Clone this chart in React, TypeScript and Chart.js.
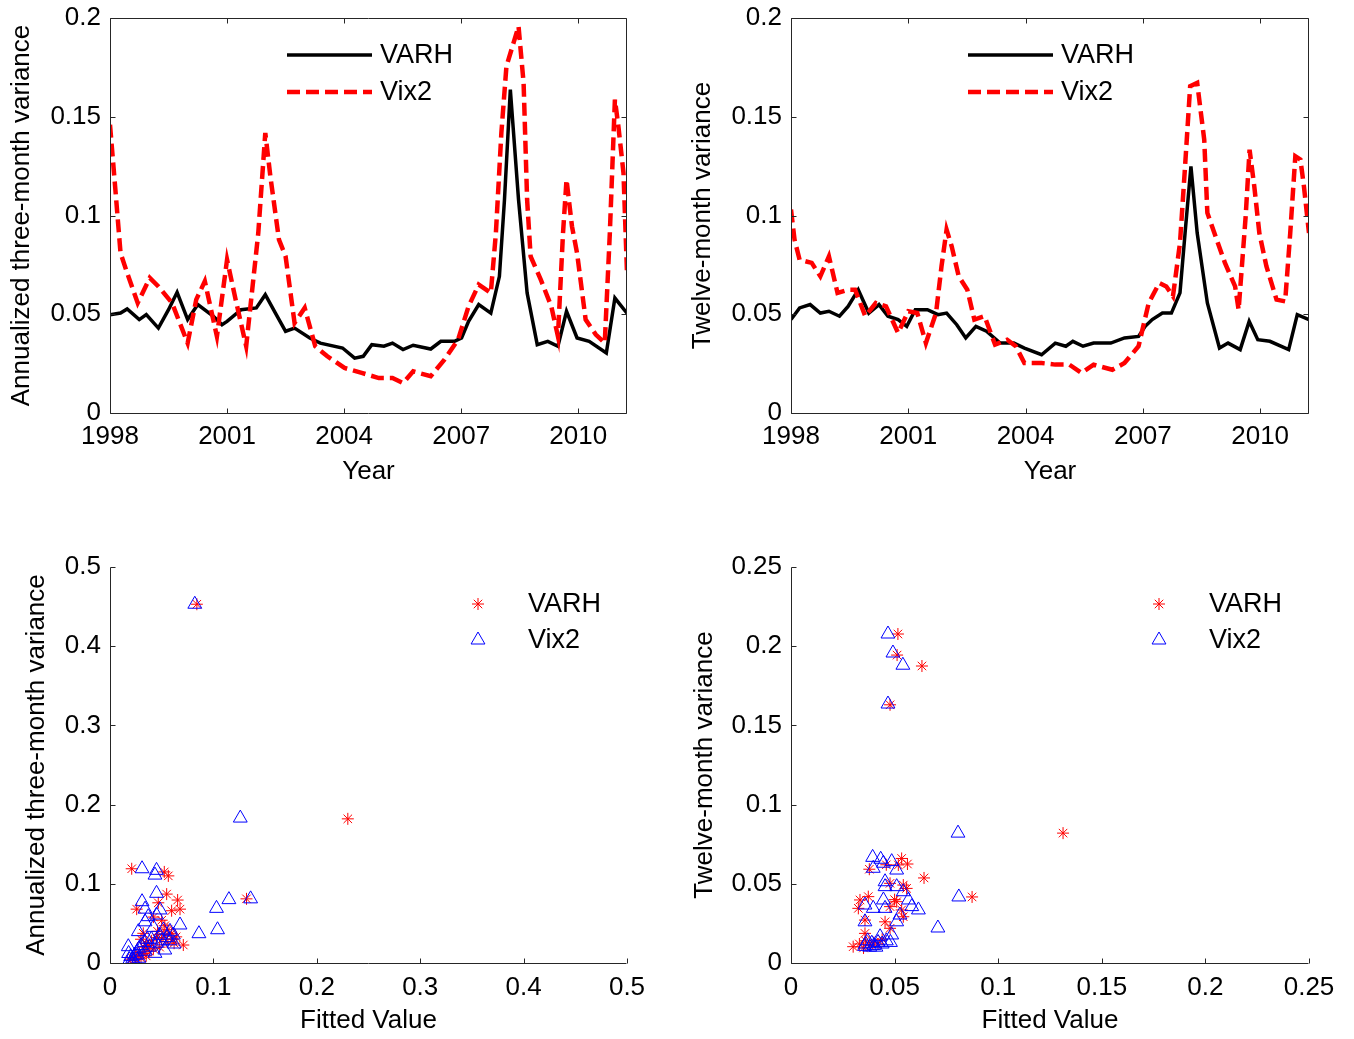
import React, { useEffect, useRef } from "react";
import { Chart, registerables } from "chart.js";

Chart.register(...registerables);

const FONT = "'Liberation Sans', Arial, Helvetica, sans-serif";
Chart.defaults.font.family = FONT;

// ---------- Top-left: annualized three-month variance ----------
const varh3Years = [1998.0, 1998.27, 1998.44, 1998.75, 1998.93, 1999.24, 1999.5, 1999.72, 1999.99, 2000.25, 2000.65, 2000.87, 2001.0, 2001.36, 2001.75, 2001.98, 2002.24, 2002.5, 2002.73, 2003.12, 2003.39, 2003.96, 2004.27, 2004.49, 2004.71, 2005.02, 2005.24, 2005.51, 2005.77, 2006.22, 2006.48, 2006.83, 2007.01, 2007.19, 2007.45, 2007.76, 2007.98, 2008.11, 2008.26, 2008.47, 2008.69, 2008.95, 2009.22, 2009.48, 2009.7, 2009.97, 2010.28, 2010.72, 2010.94, 2011.25];
const varh3Values = [0.0498, 0.0506, 0.0527, 0.0473, 0.0498, 0.043, 0.0523, 0.0611, 0.0473, 0.0549, 0.049, 0.0447, 0.0464, 0.0523, 0.0532, 0.0599, 0.0506, 0.0414, 0.043, 0.038, 0.0354, 0.0329, 0.0278, 0.0287, 0.0346, 0.0338, 0.0354, 0.0321, 0.0343, 0.0324, 0.0363, 0.0363, 0.038, 0.0464, 0.0549, 0.0506, 0.0692, 0.108, 0.1637, 0.108, 0.0608, 0.0346, 0.0363, 0.0338, 0.0515, 0.038, 0.0363, 0.0304, 0.0582, 0.0505];

const vix3Years = [1998.0, 1998.13, 1998.27, 1998.44, 1998.71, 1999.02, 1999.24, 1999.59, 1999.99, 2000.21, 2000.43, 2000.74, 2001.0, 2001.22, 2001.49, 2001.8, 2001.98, 2002.11, 2002.33, 2002.5, 2002.73, 2002.99, 2003.26, 2003.57, 2004.01, 2004.45, 2004.89, 2005.24, 2005.51, 2005.77, 2006.22, 2006.57, 2006.92, 2007.19, 2007.45, 2007.76, 2007.89, 2008.03, 2008.16, 2008.34, 2008.47, 2008.6, 2008.69, 2008.78, 2009.04, 2009.31, 2009.48, 2009.61, 2009.7, 2009.84, 2009.97, 2010.19, 2010.45, 2010.68, 2010.81, 2010.94, 2011.03, 2011.16, 2011.25];
const vix3Values = [0.146, 0.115, 0.081, 0.0709, 0.0557, 0.0684, 0.0641, 0.0557, 0.0354, 0.0574, 0.0667, 0.0388, 0.0776, 0.0574, 0.0338, 0.0911, 0.1418, 0.1198, 0.0878, 0.0793, 0.0456, 0.0532, 0.0338, 0.0287, 0.0228, 0.0203, 0.0177, 0.0177, 0.0152, 0.0211, 0.0186, 0.027, 0.0371, 0.054, 0.065, 0.0608, 0.0911, 0.1418, 0.1755, 0.1873, 0.1958, 0.1671, 0.108, 0.0793, 0.0675, 0.054, 0.0388, 0.0911, 0.1181, 0.0945, 0.081, 0.0473, 0.0397, 0.0354, 0.0911, 0.1587, 0.1451, 0.1215, 0.0709];

// ---------- Top-right: twelve-month variance ----------
const varh12Years = [1998.0, 1998.22, 1998.49, 1998.75, 1998.97, 1999.24, 1999.46, 1999.72, 1999.99, 2000.25, 2000.48, 2000.74, 2000.96, 2001.18, 2001.49, 2001.76, 2001.98, 2002.24, 2002.47, 2002.73, 2003.0, 2003.35, 2003.7, 2003.97, 2004.41, 2004.76, 2005.03, 2005.21, 2005.47, 2005.74, 2006.18, 2006.53, 2006.89, 2007.06, 2007.24, 2007.5, 2007.73, 2007.95, 2008.08, 2008.23, 2008.39, 2008.65, 2008.96, 2009.18, 2009.49, 2009.72, 2009.94, 2010.25, 2010.73, 2010.95, 2011.25];
const varh12Values = [0.0473, 0.0532, 0.0549, 0.0506, 0.0515, 0.049, 0.054, 0.0624, 0.0506, 0.0549, 0.049, 0.0473, 0.0439, 0.0523, 0.0523, 0.0498, 0.0506, 0.0447, 0.038, 0.0439, 0.0414, 0.0354, 0.0354, 0.0329, 0.0295, 0.0354, 0.0338, 0.0363, 0.0338, 0.0354, 0.0354, 0.038, 0.0388, 0.0439, 0.0473, 0.0506, 0.0506, 0.0608, 0.0911, 0.1249, 0.0911, 0.0557, 0.0329, 0.0354, 0.0321, 0.0464, 0.0371, 0.0363, 0.0321, 0.0498, 0.0473];

const vix12Years = [1998.0, 1998.09, 1998.22, 1998.53, 1998.75, 1998.97, 1999.19, 1999.46, 1999.64, 1999.9, 2000.17, 2000.43, 2000.74, 2001.0, 2001.23, 2001.45, 2001.71, 2001.85, 2001.98, 2002.11, 2002.29, 2002.51, 2002.69, 2002.95, 2003.22, 2003.53, 2003.75, 2003.97, 2004.41, 2004.76, 2005.12, 2005.43, 2005.74, 2006.22, 2006.53, 2006.89, 2007.15, 2007.42, 2007.6, 2007.77, 2007.95, 2008.08, 2008.21, 2008.39, 2008.57, 2008.65, 2008.83, 2009.1, 2009.36, 2009.45, 2009.63, 2009.73, 2009.85, 2009.98, 2010.16, 2010.42, 2010.64, 2010.77, 2010.9, 2011.03, 2011.12, 2011.25];
const vix12Values = [0.103, 0.0878, 0.0776, 0.076, 0.0692, 0.0793, 0.0608, 0.0624, 0.0624, 0.049, 0.0557, 0.054, 0.0405, 0.0515, 0.0506, 0.0354, 0.0506, 0.0743, 0.0928, 0.0844, 0.0692, 0.0624, 0.0473, 0.049, 0.0346, 0.0371, 0.0338, 0.0253, 0.0253, 0.0245, 0.0245, 0.0203, 0.0245, 0.0219, 0.0253, 0.0338, 0.0557, 0.0658, 0.0641, 0.0591, 0.0861, 0.1249, 0.1654, 0.1671, 0.1384, 0.1013, 0.0911, 0.076, 0.0641, 0.0523, 0.0996, 0.1333, 0.1148, 0.0911, 0.0743, 0.0574, 0.0565, 0.0911, 0.13, 0.1283, 0.1148, 0.0911];

const yearTicks = [1998, 2001, 2004, 2007, 2010];
const varTicksTop = [0, 0.05, 0.1, 0.15, 0.2];

// ---------- Bottom-left: three-month variance vs fitted value ----------
const sc3VarhFitted = [0.084, 0.23, 0.132, 0.021, 0.0525, 0.0564, 0.0548, 0.0654, 0.0467, 0.0258, 0.0596, 0.0677, 0.042, 0.05, 0.053, 0.0322, 0.0596, 0.0709, 0.03, 0.035, 0.04, 0.045, 0.05, 0.055, 0.06, 0.048, 0.042, 0.038, 0.032, 0.028, 0.025, 0.022, 0.02, 0.024, 0.027, 0.033, 0.037, 0.052, 0.046, 0.056, 0.062, 0.064, 0.03, 0.035];
const sc3VarhActual = [0.453, 0.182, 0.081, 0.119, 0.115, 0.11, 0.087, 0.0795, 0.076, 0.068, 0.066, 0.068, 0.058, 0.054, 0.047, 0.0375, 0.0375, 0.0227, 0.03, 0.025, 0.028, 0.032, 0.03, 0.027, 0.03, 0.02, 0.018, 0.015, 0.012, 0.01, 0.008, 0.006, 0.004, 0.005, 0.013, 0.02, 0.022, 0.036, 0.04, 0.042, 0.025, 0.033, 0.006, 0.009];
const sc3VixFitted = [0.082, 0.126, 0.136, 0.115, 0.103, 0.104, 0.086, 0.031, 0.045, 0.0435, 0.045, 0.031, 0.0339, 0.0484, 0.037, 0.045, 0.0677, 0.0339, 0.0274, 0.0516, 0.0613, 0.053, 0.0435, 0.0177, 0.018, 0.02, 0.022, 0.019, 0.024, 0.026, 0.028, 0.03, 0.033, 0.036, 0.04, 0.045, 0.05, 0.055, 0.058, 0.062, 0.038, 0.034, 0.028, 0.023, 0.026, 0.048, 0.042, 0.058];
const sc3VixActual = [0.453, 0.183, 0.081, 0.08, 0.069, 0.042, 0.037, 0.119, 0.117, 0.111, 0.088, 0.0774, 0.068, 0.067, 0.0585, 0.0606, 0.048, 0.052, 0.0396, 0.0417, 0.0354, 0.0164, 0.0122, 0.0206, 0.012, 0.008, 0.005, 0.004, 0.01, 0.014, 0.018, 0.022, 0.026, 0.03, 0.03, 0.025, 0.028, 0.032, 0.028, 0.024, 0.02, 0.015, 0.006, 0.003, 0.01, 0.035, 0.045, 0.04];
const ticks3 = [0, 0.1, 0.2, 0.3, 0.4, 0.5];

// ---------- Bottom-right: twelve-month variance vs fitted value ----------
const sc12VarhFitted = [0.0516, 0.0512, 0.0632, 0.0478, 0.1313, 0.0874, 0.0642, 0.0534, 0.0562, 0.0518, 0.0378, 0.0478, 0.0542, 0.0558, 0.0373, 0.0333, 0.0325, 0.0478, 0.051, 0.0534, 0.0542, 0.0357, 0.0454, 0.0478, 0.0357, 0.03, 0.033, 0.036, 0.038, 0.04, 0.042, 0.035, 0.044, 0.046, 0.05];
const sc12VarhActual = [0.2077, 0.1944, 0.1875, 0.163, 0.082, 0.0417, 0.0537, 0.066, 0.0625, 0.0619, 0.0592, 0.0503, 0.0492, 0.0471, 0.0419, 0.0398, 0.0345, 0.0356, 0.0387, 0.0335, 0.0292, 0.0271, 0.026, 0.0219, 0.0187, 0.0103, 0.012, 0.014, 0.011, 0.013, 0.012, 0.0095, 0.015, 0.062, 0.04];
const sc12VixFitted = [0.0468, 0.0492, 0.054, 0.0468, 0.0806, 0.081, 0.0709, 0.0394, 0.0433, 0.0446, 0.0486, 0.0397, 0.051, 0.0454, 0.0454, 0.051, 0.0542, 0.0357, 0.0397, 0.0446, 0.0454, 0.0567, 0.0583, 0.0615, 0.0526, 0.0357, 0.051, 0.0486, 0.043, 0.036, 0.038, 0.04, 0.042, 0.044, 0.046, 0.037, 0.039, 0.041, 0.0355, 0.048];
const sc12VixActual = [0.2077, 0.1957, 0.188, 0.1635, 0.082, 0.0417, 0.0221, 0.0667, 0.0655, 0.063, 0.064, 0.0598, 0.0587, 0.0513, 0.0482, 0.0482, 0.045, 0.0366, 0.0345, 0.0398, 0.0345, 0.0398, 0.0356, 0.0335, 0.0303, 0.026, 0.026, 0.0177, 0.0166, 0.012, 0.01, 0.011, 0.013, 0.012, 0.014, 0.014, 0.0125, 0.01, 0.0105, 0.013];
const ticks12 = [0, 0.05, 0.1, 0.15, 0.2, 0.25];

const toXY = (xs: number[], ys: number[]) => xs.map((x, i) => ({ x, y: ys[i] }));

const AXIS_COLOR = "#262626";

// Draws MATLAB-style axes (inward ticks, optional box) and an in-axes legend
const matlabPlugin = {
  id: "matlab",
  afterDraw(chart: any, _args: any, opts: any) {
    const { ctx, chartArea: a, scales } = chart;
    const xs = scales.x;
    const ys = scales.y;
    const L = opts.tickLen ?? 5;
    ctx.save();
    ctx.strokeStyle = AXIS_COLOR;
    ctx.lineWidth = 1;
    ctx.setLineDash([]);
    ctx.beginPath();
    const l = Math.round(a.left) + 0.5;
    const b = Math.round(a.bottom) + 0.5;
    const r = Math.round(a.right) - 0.5;
    const t = Math.round(a.top) + 0.5;
    ctx.moveTo(l, t);
    ctx.lineTo(l, b);
    ctx.lineTo(r, b);
    if (opts.box) {
      ctx.lineTo(r, t);
      ctx.lineTo(l, t);
    }
    xs.ticks.forEach((tk: any) => {
      const p = Math.round(xs.getPixelForValue(tk.value)) + 0.5;
      ctx.moveTo(p, b);
      ctx.lineTo(p, b - L);
      if (opts.box) {
        ctx.moveTo(p, t);
        ctx.lineTo(p, t + L);
      }
    });
    ys.ticks.forEach((tk: any) => {
      const p = Math.round(ys.getPixelForValue(tk.value)) + 0.5;
      ctx.moveTo(l, p);
      ctx.lineTo(l + L, p);
      if (opts.box) {
        ctx.moveTo(r, p);
        ctx.lineTo(r - L, p);
      }
    });
    ctx.stroke();

    // legend
    const lg = opts.legend;
    if (lg) {
      chart.data.datasets.forEach((ds: any, i: number) => {
        const y = a.top + lg.top + i * lg.gap;
        if (lg.kind === "line") {
          ctx.beginPath();
          ctx.strokeStyle = ds.borderColor;
          ctx.lineWidth = ds.borderWidth;
          ctx.setLineDash(ds.borderDash || []);
          ctx.moveTo(a.left + lg.x0, y);
          ctx.lineTo(a.left + lg.x1, y);
          ctx.stroke();
          ctx.setLineDash([]);
        } else {
          const cx = a.left + lg.x0;
          const rad = ds.pointRadius;
          ctx.beginPath();
          ctx.strokeStyle = ds.borderColor;
          ctx.lineWidth = ds.borderWidth;
          if (ds.pointStyle === "star") {
            const d = rad * Math.SQRT1_2;
            ctx.moveTo(cx - rad, y); ctx.lineTo(cx + rad, y);
            ctx.moveTo(cx, y - rad); ctx.lineTo(cx, y + rad);
            ctx.moveTo(cx - d, y - d); ctx.lineTo(cx + d, y + d);
            ctx.moveTo(cx - d, y + d); ctx.lineTo(cx + d, y - d);
          } else {
            let ang = 0;
            ctx.moveTo(cx + Math.sin(ang) * rad, y - Math.cos(ang) * rad);
            ang += (2 * Math.PI) / 3;
            ctx.lineTo(cx + Math.sin(ang) * rad, y - Math.cos(ang) * rad);
            ang += (2 * Math.PI) / 3;
            ctx.lineTo(cx + Math.sin(ang) * rad, y - Math.cos(ang) * rad);
            ctx.closePath();
          }
          ctx.stroke();
        }
        ctx.fillStyle = "#000";
        ctx.font = `27px ${FONT}`;
        ctx.textAlign = "left";
        ctx.textBaseline = "middle";
        ctx.fillText(ds.label, a.left + lg.tx, y + 1);
      });
    }
    ctx.restore();
  },
};

function makeOptions(p: any) {
  const tickFont = { family: FONT, size: 26 };
  return {
    responsive: false,
    animation: false,
    devicePixelRatio: 1,
    layout: { padding: p.padding },
    plugins: {
      legend: { display: false },
      tooltip: { enabled: false },
      matlab: { box: p.box, tickLen: 5, legend: p.legend },
    },
    scales: {
      x: {
        type: "linear",
        min: p.xMin,
        max: p.xMax,
        afterBuildTicks: (s: any) => {
          s.ticks = p.xTicks.map((v: number) => ({ value: v }));
        },
        afterFit: (s: any) => {
          s.height = p.xAxisHeight;
          s.paddingLeft = 0;
          s.paddingRight = 0;
        },
        grid: { display: false, drawTicks: false },
        border: { display: false },
        ticks: {
          color: "#000",
          font: tickFont,
          padding: p.xTickPad,
          maxRotation: 0,
          autoSkip: false,
          callback: (v: number) => String(v),
        },
        title: {
          display: true,
          text: p.xTitle,
          color: "#000",
          font: tickFont,
          padding: { top: 0, bottom: p.xTitlePad },
        },
      },
      y: {
        type: "linear",
        min: p.yMin,
        max: p.yMax,
        afterBuildTicks: (s: any) => {
          s.ticks = p.yTicks.map((v: number) => ({ value: v }));
        },
        afterFit: (s: any) => {
          s.width = p.yAxisWidth;
          s.paddingTop = 0;
          s.paddingBottom = 0;
        },
        grid: { display: false, drawTicks: false },
        border: { display: false },
        ticks: {
          color: "#000",
          font: tickFont,
          padding: 9,
          autoSkip: false,
          callback: (v: number) => String(v),
        },
        title: {
          display: true,
          text: p.yTitle,
          color: "#000",
          font: tickFont,
          padding: { top: p.yTitlePad, bottom: 0 },
        },
      },
    },
  };
}

function lineConfig(vY: number[], vV: number[], xY: number[], xV: number[], yTitle: string, yAxisWidth: number, yTitlePad: number, padRight: number) {
  return {
    type: "line",
    data: {
      datasets: [
        {
          label: "VARH",
          data: toXY(vY, vV),
          borderColor: "#000000",
          borderWidth: 3.5,
          pointRadius: 0,
          tension: 0,
          order: 1,
        },
        {
          label: "Vix2",
          data: toXY(xY, xV),
          borderColor: "#ff0000",
          borderWidth: 4.5,
          borderDash: [13, 6],
          pointRadius: 0,
          tension: 0,
          order: 0,
        },
      ],
    },
    options: makeOptions({
      padding: { left: 0, top: 18, right: padRight, bottom: 0 },
      box: true,
      legend: { kind: "line", top: 37, gap: 37, x0: 177, x1: 262, tx: 270 },
      xMin: 1998,
      xMax: 2011.25,
      xTicks: yearTicks,
      yMin: 0,
      yMax: 0.2,
      yTicks: varTicksTop,
      xTitle: "Year",
      yTitle,
      xAxisHeight: 87,
      yAxisWidth,
      xTickPad: 8,
      xTitlePad: 13,
      yTitlePad,
    }),
    plugins: [matlabPlugin],
  };
}

function scatterConfig(vX: number[], vY: number[], xX: number[], xY: number[], max: number, ticks: number[], yTitle: string, yAxisWidth: number, yTitlePad: number, padRight: number) {
  return {
    type: "scatter",
    data: {
      datasets: [
        {
          label: "VARH",
          data: toXY(vX, vY),
          pointStyle: "star",
          pointRadius: 6,
          borderColor: "#ff0000",
          backgroundColor: "rgba(0,0,0,0)",
          borderWidth: 1,
          order: 1,
        },
        {
          label: "Vix2",
          data: toXY(xX, xY),
          pointStyle: "triangle",
          pointRadius: 8,
          borderColor: "#0000ff",
          backgroundColor: "rgba(0,0,0,0)",
          borderWidth: 1,
          order: 0,
        },
      ],
    },
    options: makeOptions({
      padding: { left: 0, top: 47, right: padRight, bottom: 0 },
      box: false,
      legend: { kind: "marker", top: 37, gap: 36, x0: 368, tx: 418 },
      xMin: 0,
      xMax: max,
      xTicks: ticks,
      yMin: 0,
      yMax: max,
      yTicks: ticks,
      xTitle: "Fitted Value",
      yTitle,
      xAxisHeight: 76,
      yAxisWidth,
      xTickPad: 9,
      xTitlePad: 3,
      yTitlePad,
    }),
    plugins: [matlabPlugin],
  };
}

function Panel({ left, top, width, height, config }: any) {
  const ref = useRef<HTMLCanvasElement>(null);
  useEffect(() => {
    const chart = new Chart(ref.current as HTMLCanvasElement, config);
    return () => chart.destroy();
  }, []);
  return (
    <canvas
      ref={ref}
      width={width}
      height={height}
      style={{ position: "absolute", left, top, width, height }}
    />
  );
}

export default function App() {
  return (
    <div style={{ position: "absolute", left: 0, top: 0, width: 1354, height: 1039, background: "#fff" }}>
      <Panel left={0} top={0} width={677} height={500}
        config={lineConfig(varh3Years, varh3Values, vix3Years, vix3Values, "Annualized three-month variance", 110, 6, 50)} />
      <Panel left={677} top={0} width={677} height={500}
        config={lineConfig(varh12Years, varh12Values, vix12Years, vix12Values, "Twelve-month variance", 114, 10, 45)} />
      <Panel left={0} top={520} width={677} height={519}
        config={scatterConfig(sc3VarhFitted, sc3VarhActual, sc3VixFitted, sc3VixActual, 0.5, ticks3, "Annualized three-month variance", 110, 21, 50)} />
      <Panel left={677} top={520} width={677} height={519}
        config={scatterConfig(sc12VarhFitted, sc12VarhActual, sc12VixFitted, sc12VixActual, 0.25, ticks12, "Twelve-month variance", 114, 12, 45)} />
    </div>
  );
}
